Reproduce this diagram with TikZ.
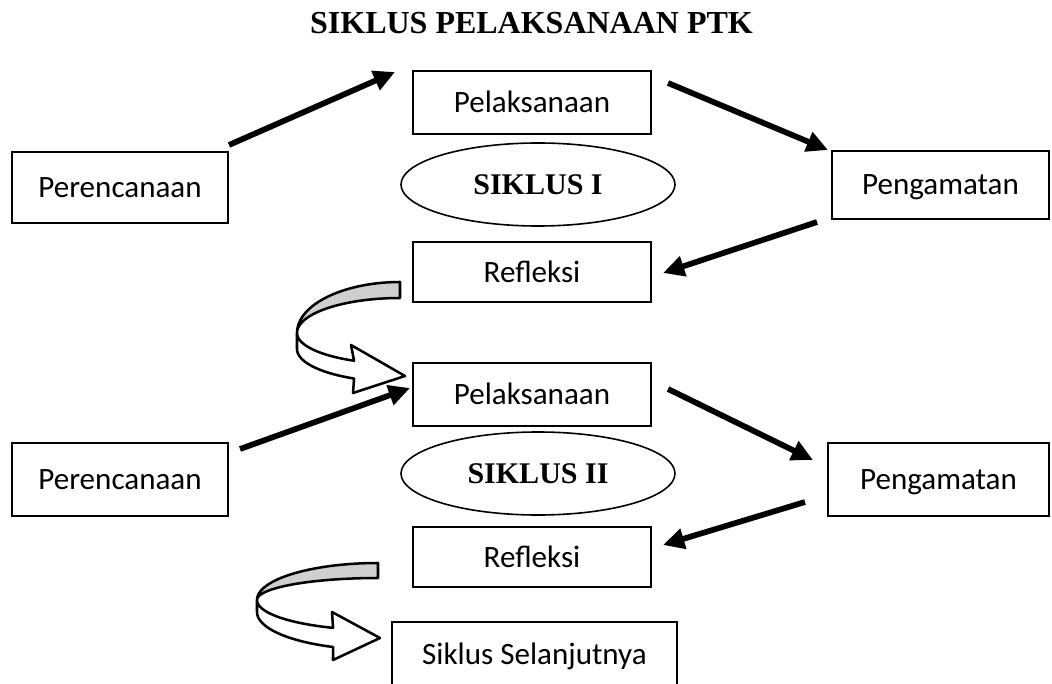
\documentclass[tikz,border=0pt]{standalone}
\usepackage{fontspec}
\setmainfont{Liberation Serif}
\newfontfamily\boxfont{Carlito}
\usetikzlibrary{arrows.meta,calc,shapes.geometric}

\begin{document}
\begin{tikzpicture}[
    x=0.75pt, y=-0.75pt,
    stagebox/.style={draw, line width=1.7pt, inner sep=0pt, outer sep=0pt, font=\boxfont\fontsize{23.3}{28}\selectfont, text height=15pt, text depth=0pt},
    cyclelabel/.style={ellipse, draw, line width=1.2pt, inner sep=0pt, font=\bfseries\fontsize{22.5}{26}\selectfont, text height=14.9pt, text depth=0pt},
    flowarrow/.style={line width=4.3pt, -{Triangle[length=16pt,width=15pt]}},
    turnband/.style={draw, line width=1.9pt, line join=round},
]

% pixel unit for node sizes
\def\pxu{0.75pt}

\useasboundingbox (0,0) rectangle (1052,684);

% === Title ===
\node[font=\bfseries\fontsize{24}{28}\selectfont, text height=15.9pt, text depth=0pt, inner sep=0pt] (title) at (531.5,22.5) {SIKLUS PELAKSANAAN PTK};

% === Siklus I ===
\node[stagebox, minimum width=216*\pxu, minimum height=71*\pxu] (per1) at (120,187.5) {Perencanaan};
\node[stagebox, minimum width=238*\pxu, minimum height=63*\pxu] (pel1) at (532,102.5) {Pelaksanaan};
\node[cyclelabel, minimum width=274*\pxu, minimum height=83*\pxu] (sik1) at (538,184.5) {SIKLUS I};
\node[stagebox, minimum width=217*\pxu, minimum height=68*\pxu] (pen1) at (940.5,185) {Pengamatan};
\node[stagebox, minimum width=238*\pxu, minimum height=60*\pxu] (ref1) at (532,272) {Refleksi};

\draw[flowarrow] ($(per1.north east)+(1,-7)$) -- ($(pel1.north west)+(-18,1)$);
\draw[flowarrow] ($(pel1.north east)+(17,12)$) -- ($(pen1.north west)+(-4,-1)$);
\draw[flowarrow] ($(pen1.south west)+(-15,3)$) -- ($(ref1.east)+(12,1)$);

% === Siklus II ===
\node[stagebox, minimum width=216*\pxu, minimum height=73*\pxu] (per2) at (120,479.5) {Perencanaan};
\node[stagebox, minimum width=238*\pxu, minimum height=63*\pxu] (pel2) at (532,394.5) {Pelaksanaan};
\node[cyclelabel, minimum width=274*\pxu, minimum height=83*\pxu] (sik2) at (538,473.5) {SIKLUS II};
\node[stagebox, minimum width=221*\pxu, minimum height=73*\pxu] (pen2) at (938.5,479.5) {Pengamatan};
\node[stagebox, minimum width=238*\pxu, minimum height=60*\pxu] (ref2) at (532,557) {Refleksi};

\draw[flowarrow] ($(per2.north east)+(12,6)$) -- ($(pel2.west)+(-3,-6.5)$);
\draw[flowarrow] ($(pel2.east)+(17,-5.5)$) -- ($(pen2.west)+(-15,-19.5)$);
\draw[flowarrow] ($(pen2.south west)+(-23,-14)$) -- ($(ref2.east)+(12,-12)$);

% === Siklus selanjutnya ===
\node[stagebox, minimum width=285*\pxu, minimum height=64*\pxu] (next) at (534.5,654) {Siklus Selanjutnya};

% === Curved arrow: Refleksi I to Siklus II ===
\draw[turnband, fill=white] plot[domain=180:116.5, samples=24] ({400+103*cos(\x)}, {333+31*sin(\x)})
    -- (351,345) -- (405,376) -- (353,393)
    -- plot[domain=116.5:180, samples=24] ({400+103*cos(\x)}, {349+33*sin(\x)}) -- cycle;
\draw[turnband, fill=gray!38] (400,282)
    -- plot[domain=270:180, samples=30] ({400+103*cos(\x)}, {333+51*sin(\x)})
    -- plot[domain=180:270, samples=30] ({400+103*cos(\x)}, {333+35*sin(\x)}) -- cycle;

% === Curved arrow: Refleksi II to next cycle ===
\draw[turnband, fill=white] plot[domain=180:111.8, samples=24] ({378+121*cos(\x)}, {600+30*sin(\x)})
    -- (332,612) -- (380,638) -- (333,660)
    -- plot[domain=111.8:180, samples=24] ({378+121*cos(\x)}, {612+37.7*sin(\x)}) -- cycle;
\draw[turnband, fill=gray!38] (378,563)
    -- plot[domain=270:180, samples=30] ({378+121*cos(\x)}, {600+37*sin(\x)})
    -- plot[domain=180:270, samples=30] ({378+121*cos(\x)}, {600+22*sin(\x)}) -- cycle;

\end{tikzpicture}
\end{document}
